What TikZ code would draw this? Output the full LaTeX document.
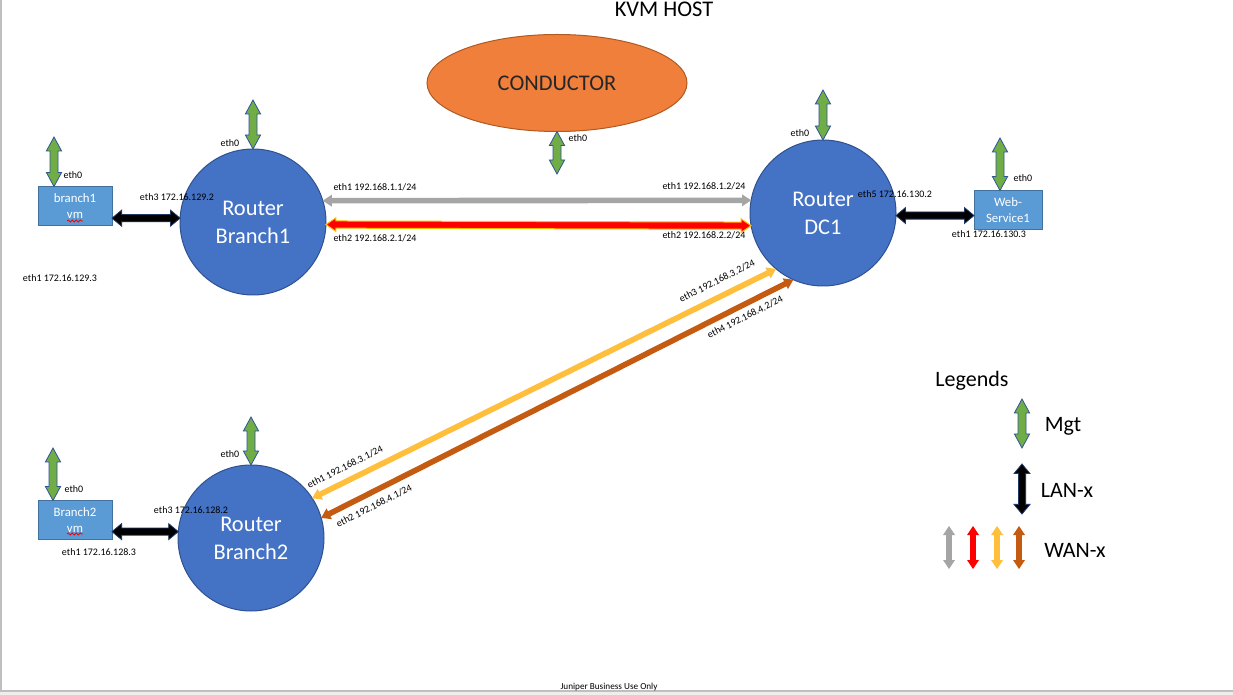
\documentclass[tikz,border=0pt]{standalone}
\usepackage{fontspec}
\setmainfont{Carlito}
\usetikzlibrary{positioning}
\usetikzlibrary{calc}
\usetikzlibrary{shapes.geometric}
\usetikzlibrary{decorations.pathmorphing}

\definecolor{routerblue}{HTML}{4472C4}
\definecolor{routerline}{HTML}{2F528F}
\definecolor{boxblue}{HTML}{5B9BD5}
\definecolor{boxline}{HTML}{41719C}
\definecolor{condorange}{HTML}{F07F3C}
\definecolor{condline}{HTML}{AE5A21}
\definecolor{mgtgreen}{HTML}{70AD47}
\definecolor{mgtline}{HTML}{2F5597}
\definecolor{lanline}{HTML}{1F3864}
\definecolor{wangray}{HTML}{A5A5A5}
\definecolor{wanglow}{HTML}{FFC000}
\definecolor{wanyellow}{HTML}{FFBE3B}
\definecolor{wanbrown}{HTML}{C55A11}
\definecolor{slidegray}{HTML}{EEEEEE}
\definecolor{frameline}{HTML}{BFBFBF}

\tikzset{
	every node/.style={anchor=base,align=center,inner sep=0pt,outer sep=0pt},
	router/.style={circle,anchor=center,minimum size=73pt,fill=routerblue,draw=routerline,line width=0.5pt,text=white,font=\fontsize{11.2}{14}\selectfont},
	vmbox/.style={rectangle,anchor=center,minimum width=37pt,minimum height=19.5pt,fill=boxblue,draw=boxline,line width=0.5pt,text=white,font=\fontsize{6.4}{8}\selectfont},
	conductor/.style={ellipse,anchor=center,minimum width=130pt,minimum height=48.5pt,fill=condorange,draw=condline,line width=0.5pt,text=black!85,font=\fontsize{11.2}{13}\selectfont},
	hosttitle/.style={font=\fontsize{11.2}{13}\selectfont},
	legendtext/.style={font=\fontsize{11}{13}\selectfont},
	portlabel/.style={font=\fontsize{5}{6}\selectfont},
	footer/.style={font=\fontsize{4.6}{5}\selectfont},
	% double headed block arrow: head length / head half width / shaft half width
	blockarrow/.style n args={3}{to path={
		($(\tikztostart)!#1!(\tikztotarget)$) coordinate (ba1)
		($(\tikztotarget)!#1!(\tikztostart)$) coordinate (ba2)
		(\tikztostart) -- ($(ba1)!#2!90:(\tikztotarget)$) -- ($(ba1)!#3!90:(\tikztotarget)$)
		-- ($(ba2)!#3!-90:(\tikztostart)$) -- ($(ba2)!#2!-90:(\tikztostart)$) -- (\tikztotarget)
		-- ($(ba2)!#2!90:(\tikztostart)$) -- ($(ba2)!#3!90:(\tikztostart)$)
		-- ($(ba1)!#3!-90:(\tikztotarget)$) -- ($(ba1)!#2!-90:(\tikztotarget)$) -- cycle}},
	mgt/.style={blockarrow={7pt}{3.8pt}{2pt},fill=mgtgreen,draw=mgtline,line width=0.4pt,line join=miter},
	lan/.style={blockarrow={4.8pt}{4pt}{1.8pt},fill=black,draw=lanline,line width=0.4pt},
	wan/.style={blockarrow={4.5pt}{3pt}{1.4pt},fill=#1,draw=none},
	wanred/.style={blockarrow={5pt}{3.4pt}{1.8pt},fill=red,draw=wanglow,line width=0.5pt},
	spell/.style={draw=red,line width=0.4pt,decorate,decoration={snake,amplitude=0.5pt,segment length=2pt}},
}

\begin{document}
\begin{tikzpicture}[x=0.5pt,y=-0.5pt]

	%slide.....................
	\fill [white] (0,0) rectangle (1233,695);
	\useasboundingbox (0,0) rectangle (1233,695);
	\fill [slidegray] (0,692) rectangle (1233,695);
	\draw [frameline,line width=0.8pt] (1,0) -- (1,691) -- (1233,691);

	%title......................
	\node [hosttitle] (kvm) at (664,17) {KVM HOST};

	% conductor...................
	\node [conductor] (cond) at (557,83) {CONDUCTOR};

	% routers.....................
	\node [router] (rb1) at (253,222) {Router\\Branch1};
	\node [router] (rdc1) at (823,213) {Router\\DC1};
	\node [router] (rb2) at (251,538) {Router\\Branch2};

	% hosts.......................
	\node [vmbox] (b1vm) at (75,206) {branch1\\vm};
	\node [vmbox] (b2vm) at (75,520) {Branch2\\vm};
	\node [vmbox,minimum width=34pt] (web) at (1008,210) {Web-\\Service1};
	\draw [spell] ([xshift=-4pt,yshift=-7.5pt]b1vm.center) -- ++(16,0);
	\draw [spell] ([xshift=-4pt,yshift=-7pt]b2vm.center) -- ++(16,0);

	% mgt stubs...................
	\coordinate (b1top) at (253,100);
	\coordinate (b1vmtop) at (54,137);
	\coordinate (dc1top) at (823,90);
	\coordinate (webtop) at (1000,138);
	\coordinate (condbot) at (557,174);
	\coordinate (b2top) at (251,417);
	\coordinate (b2vmtop) at (53,448);
	\draw [mgt] (b1top) to (rb1.north);
	\draw [mgt] (b1vmtop) to (b1vmtop |- b1vm.north);
	\draw [mgt] (dc1top) to (rdc1.north);
	\draw [mgt] (webtop) to (webtop |- web.north);
	\draw [mgt] (cond.south) to (condbot);
	\draw [mgt] (b2top) to (rb2.north);
	\draw [mgt] (b2vmtop) to (b2vmtop |- b2vm.north);

	% eth0 labels.................
	\node [portlabel] (b1eth0) at (230,147) {eth0};
	\node [portlabel] (b1vmeth0) at (73,179) {eth0};
	\node [portlabel] (dc1eth0) at (800,137) {eth0};
	\node [portlabel] (webeth0) at (1023,182) {eth0};
	\node [portlabel] (condeth0) at (578,142) {eth0};
	\node [portlabel] (b2eth0) at (230,458) {eth0};
	\node [portlabel] (b2vmeth0) at (74,493) {eth0};

	% LAN links...................
	\draw [lan] (b1vm.east |- rb1.177) to (rb1.177);
	\draw [lan] (b2vm.east |- rb2.175) to (rb2.175);
	\draw [lan] (rdc1.358) to (web.west |- rdc1.358);
	\node [portlabel] (b1eth3) at (177,201) {eth3 172.16.129.2};
	\node [portlabel] (b1vmeth1) at (60,282) {eth1 172.16.129.3};
	\node [portlabel] (b2eth3) at (191,514) {eth3 172.16.128.2};
	\node [portlabel] (b2vmeth1) at (99,555) {eth1 172.16.128.3};
	\node [portlabel] (dc1eth5) at (895,198) {eth5 172.16.130.2};
	\node [portlabel] (webeth1) at (989,238) {eth1 172.16.130.3};

	% WAN links...................
	\draw [wan=wangray] (rb1.17) to (rdc1.170);
	\draw [wanred] (rb1.-2) to (rdc1.190);
	\draw [wan=wanyellow] (rb2.33) to (rdc1.230);
	\draw [wan=wanbrown] (rb2.16) to (rdc1.246);
	\node [portlabel] (b1eth1) at (375,191) {eth1 192.168.1.1/24};
	\node [portlabel] (b1eth2) at (375,242) {eth2 192.168.2.1/24};
	\node [portlabel] (dc1eth1) at (704,190) {eth1 192.168.1.2/24};
	\node [portlabel] (dc1eth2) at (704,239) {eth2 192.168.2.2/24};
	\node [portlabel,anchor=center,rotate=26.6] (b2eth1) at (345,467) {eth1 192.168.3.1/24};
	\node [portlabel,anchor=center,rotate=26.6] (b2eth2) at (374,506) {eth2 192.168.4.1/24};
	\node [portlabel,anchor=center,rotate=26.6] (dc1eth3) at (717,281) {eth3 192.168.3.2/24};
	\node [portlabel,anchor=center,rotate=26.6] (dc1eth4) at (745,317) {eth4 192.168.4.2/24};

	% legend......................
	\node [legendtext] (legtitle) at (972,387) {Legends};
	\coordinate (lgmgttop) at (1022,399);
	\coordinate (lgmgtbot) at (1022,448);
	\draw [mgt] (lgmgttop) to (lgmgtbot);
	\node [legendtext] (lgmgt) at (1063,432) {Mgt};
	\coordinate (lglantop) at (1022,464);
	\coordinate (lglanbot) at (1022,514);
	\draw [lan] (lglantop) to (lglanbot);
	\node [legendtext] (lglan) at (1067,497) {LAN-x};
	\foreach \col/\xx in {wangray/949,red/973,wanyellow/997,wanbrown/1019}{
		\coordinate (lgwt\xx) at (\xx,526);
		\coordinate (lgwb\xx) at (\xx,569);
		\draw [wan=\col] (lgwt\xx) to (lgwb\xx);
	}
	\node [legendtext] (lgwan) at (1075,557) {WAN-x};

	% footer......................
	\node [footer] (foot) at (609,689) {Juniper Business Use Only};

\end{tikzpicture}
\end{document}
